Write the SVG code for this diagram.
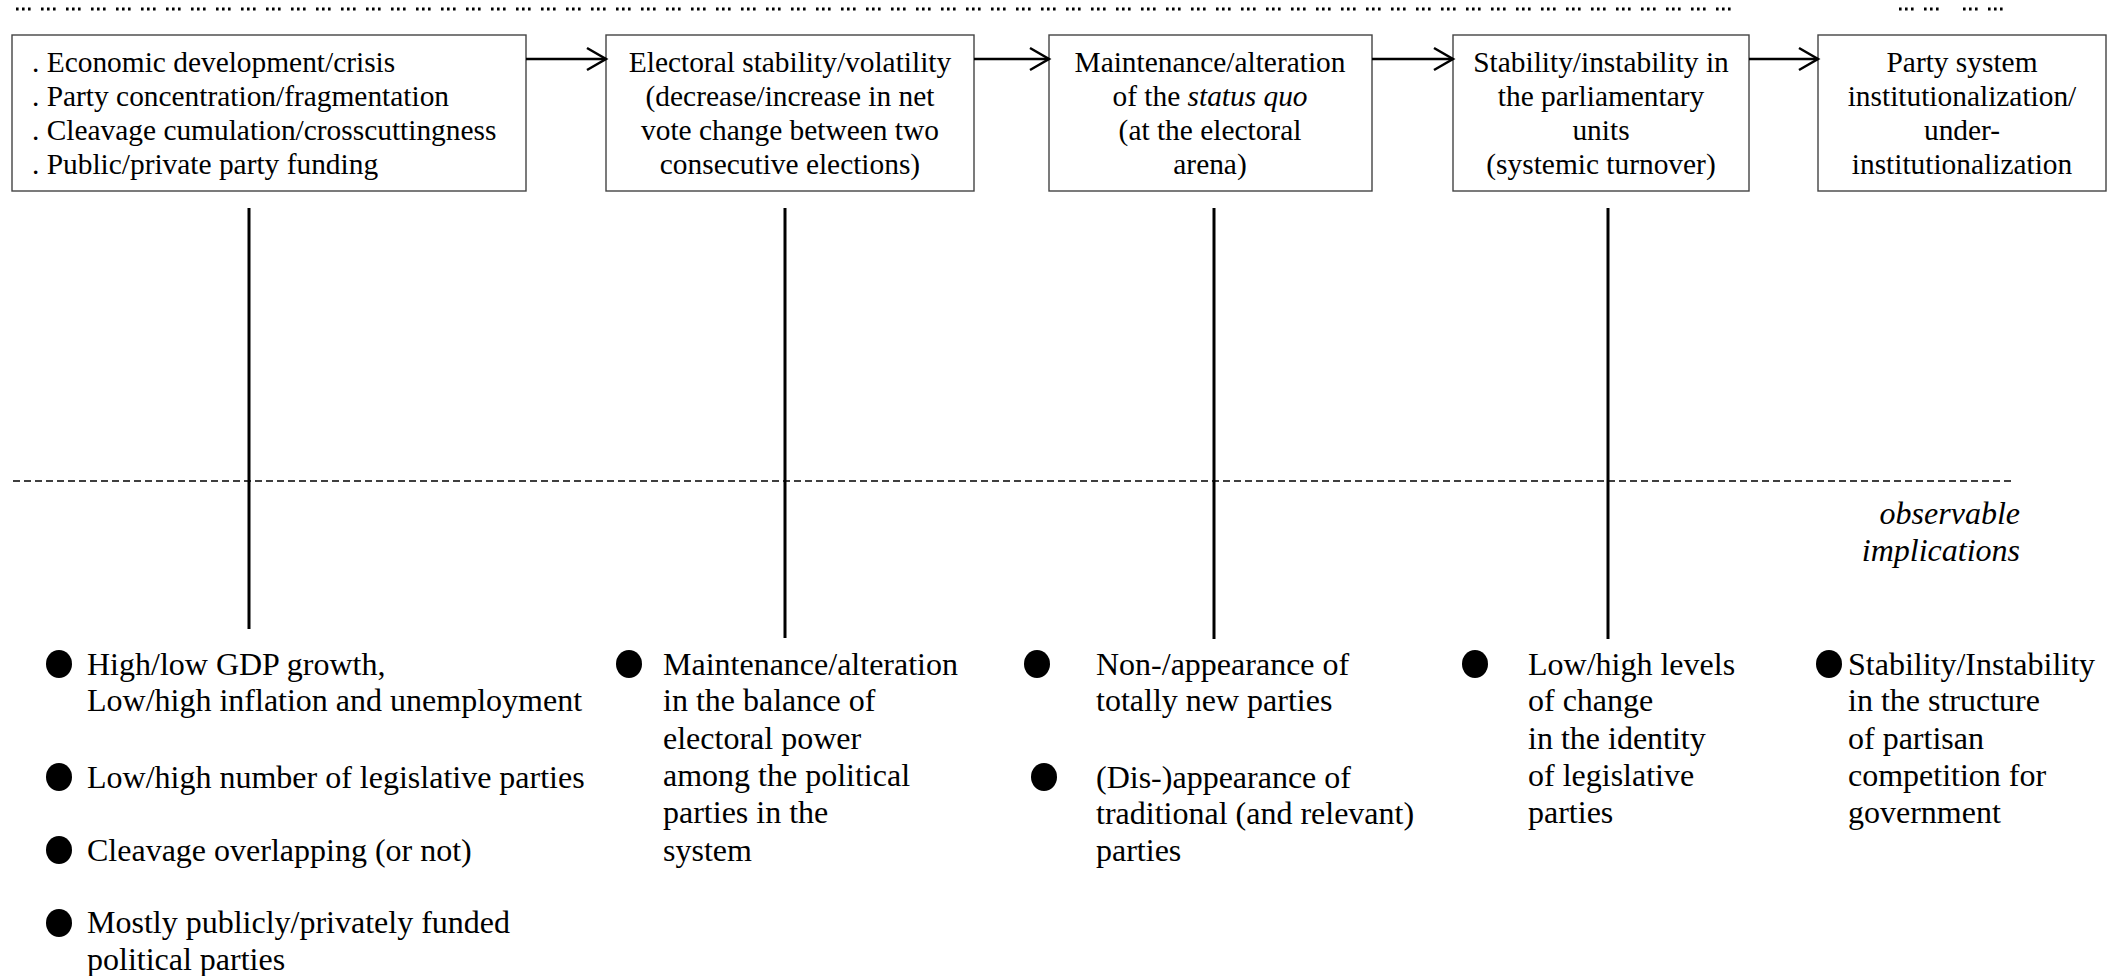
<svg xmlns="http://www.w3.org/2000/svg" width="2109" height="976" viewBox="0 0 2109 976">
<style>
text{font-family:"Liberation Serif","Times New Roman",serif;fill:#000}
.bx{fill:#fff;stroke:#444;stroke-width:1.4}
.t{font-size:29.4px}
.c{text-anchor:middle}
.b{font-size:32px}
.dots{stroke:#000;stroke-width:2.8;stroke-dasharray:2.6 3.4 2.6 3.4 2.6 10.4;fill:none}
.arr{stroke:#000;stroke-width:2.5;fill:none;marker-end:url(#ah)}
.vl{stroke:#000;stroke-width:3;fill:none}
.dash{stroke:#000;stroke-width:1.6;stroke-dasharray:7 4;fill:none}
.bul{fill:#000}
</style>
<defs>
<marker id="ah" markerUnits="userSpaceOnUse" markerWidth="26" markerHeight="28" refX="21" refY="13" orient="auto">
<path d="M2,2 L21,13 L2,24" fill="none" stroke="#000" stroke-width="2.5"/>
</marker>
</defs>
<g id="dotted-lines">
<line class="dots" x1="16" y1="9" x2="1737" y2="9"/>
<line class="dots" x1="1899" y1="9" x2="1949" y2="9"/>
<line class="dots" x1="1963" y1="9" x2="2013" y2="9"/>
</g>
<g id="node-1">
<rect class="bx" x="12" y="35" width="514" height="156"/>
<text class="t" x="32" y="72">. Economic development/crisis</text>
<text class="t" x="32" y="106">. Party concentration/fragmentation</text>
<text class="t" x="32" y="140">. Cleavage cumulation/crosscuttingness</text>
<text class="t" x="32" y="174">. Public/private party funding</text>
</g>
<g id="node-2">
<rect class="bx" x="606" y="35" width="368" height="156"/>
<text class="t c" x="790" y="72">Electoral stability/volatility</text>
<text class="t c" x="790" y="106">(decrease/increase in net</text>
<text class="t c" x="790" y="140">vote change between two</text>
<text class="t c" x="790" y="174">consecutive elections)</text>
</g>
<g id="node-3">
<rect class="bx" x="1049" y="35" width="323" height="156"/>
<text class="t c" x="1210" y="72">Maintenance/alteration</text>
<text class="t c" x="1210" y="106">of the <tspan font-style="italic">status quo</tspan></text>
<text class="t c" x="1210" y="140">(at the electoral</text>
<text class="t c" x="1210" y="174">arena)</text>
</g>
<g id="node-4">
<rect class="bx" x="1453" y="35" width="296" height="156"/>
<text class="t c" x="1601" y="72">Stability/instability in</text>
<text class="t c" x="1601" y="106">the parliamentary</text>
<text class="t c" x="1601" y="140">units</text>
<text class="t c" x="1601" y="174">(systemic turnover)</text>
</g>
<g id="node-5">
<rect class="bx" x="1818" y="35" width="288" height="156"/>
<text class="t c" x="1962" y="72">Party system</text>
<text class="t c" x="1962" y="106">institutionalization/</text>
<text class="t c" x="1962" y="140">under-</text>
<text class="t c" x="1962" y="174">institutionalization</text>
</g>
<g id="connectors">
<line class="arr" x1="526" y1="59" x2="606" y2="59"/>
<line class="arr" x1="974" y1="59" x2="1049" y2="59"/>
<line class="arr" x1="1372" y1="59" x2="1453" y2="59"/>
<line class="arr" x1="1749" y1="59" x2="1818" y2="59"/>
<line class="vl" x1="249" y1="208" x2="249" y2="629"/>
<line class="vl" x1="785" y1="208" x2="785" y2="638"/>
<line class="vl" x1="1214" y1="208" x2="1214" y2="639"/>
<line class="vl" x1="1608" y1="208" x2="1608" y2="639"/>
</g>
<g id="separator">
<line class="dash" x1="13" y1="481" x2="2013" y2="481"/>
<text class="b" x="2020" y="524" text-anchor="end" font-style="italic">observable</text>
<text class="b" x="2020" y="561" text-anchor="end" font-style="italic">implications</text>
</g>
<g id="implications-1">
<ellipse class="bul" cx="59" cy="664" rx="13" ry="14"/>
<text class="b" x="87" y="675">High/low GDP growth,</text>
<text class="b" x="87" y="711">Low/high inflation and unemployment</text>
<ellipse class="bul" cx="59" cy="777" rx="13" ry="14"/>
<text class="b" x="87" y="788">Low/high number of legislative parties</text>
<ellipse class="bul" cx="59" cy="850" rx="13" ry="14"/>
<text class="b" x="87" y="861">Cleavage overlapping (or not)</text>
<ellipse class="bul" cx="59" cy="923" rx="13" ry="14"/>
<text class="b" x="87" y="933">Mostly publicly/privately funded</text>
<text class="b" x="87" y="970">political parties</text>
</g>
<g id="implications-2">
<ellipse class="bul" cx="629" cy="664" rx="13" ry="14"/>
<text class="b" x="663" y="675">Maintenance/alteration</text>
<text class="b" x="663" y="711">in the balance of</text>
<text class="b" x="663" y="749">electoral power</text>
<text class="b" x="663" y="786">among the political</text>
<text class="b" x="663" y="823">parties in the</text>
<text class="b" x="663" y="861">system</text>
</g>
<g id="implications-3">
<ellipse class="bul" cx="1037" cy="664" rx="13" ry="14"/>
<text class="b" x="1096" y="675">Non-/appearance of</text>
<text class="b" x="1096" y="711">totally new parties</text>
<ellipse class="bul" cx="1044" cy="777" rx="13" ry="14"/>
<text class="b" x="1096" y="788">(Dis-)appearance of</text>
<text class="b" x="1096" y="824">traditional (and relevant)</text>
<text class="b" x="1096" y="861">parties</text>
</g>
<g id="implications-4">
<ellipse class="bul" cx="1475" cy="664" rx="13" ry="14"/>
<text class="b" x="1528" y="675">Low/high levels</text>
<text class="b" x="1528" y="711">of change</text>
<text class="b" x="1528" y="749">in the identity</text>
<text class="b" x="1528" y="786">of legislative</text>
<text class="b" x="1528" y="823">parties</text>
</g>
<g id="implications-5">
<ellipse class="bul" cx="1829" cy="664" rx="13" ry="14"/>
<text class="b" x="1848" y="675">Stability/Instability</text>
<text class="b" x="1848" y="711">in the structure</text>
<text class="b" x="1848" y="749">of partisan</text>
<text class="b" x="1848" y="786">competition for</text>
<text class="b" x="1848" y="823">government</text>
</g>
</svg>
